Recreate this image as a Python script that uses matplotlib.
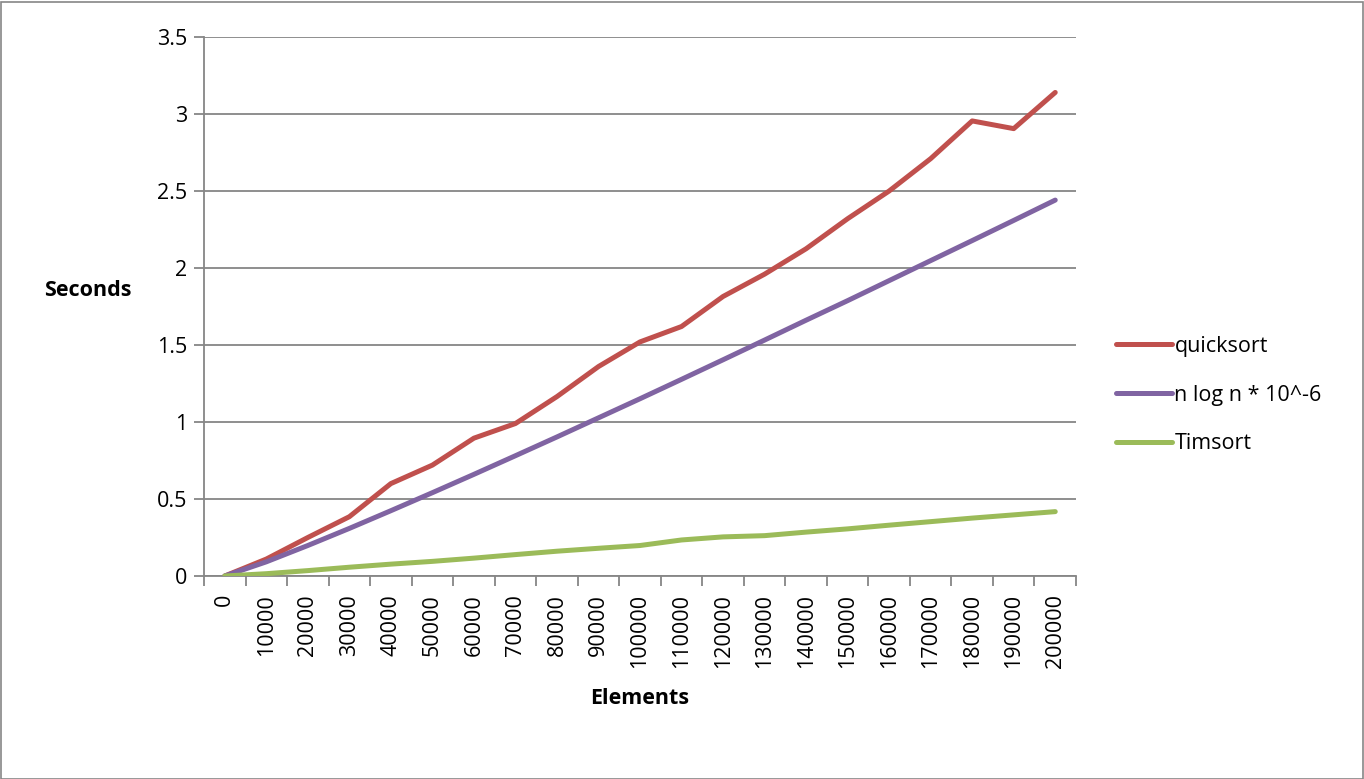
import matplotlib
matplotlib.use("Agg")
import matplotlib.pyplot as plt
from matplotlib.patches import Rectangle

# element counts on the category axis
elements = [0, 10000, 20000, 30000, 40000, 50000, 60000, 70000, 80000, 90000,
            100000, 110000, 120000, 130000, 140000, 150000, 160000, 170000,
            180000, 190000, 200000]

# timings in seconds
quicksort = [0, 0.11, 0.25, 0.385, 0.60, 0.72, 0.895, 0.99, 1.165, 1.36,
             1.52, 1.62, 1.815, 1.96, 2.125, 2.32, 2.50, 2.71, 2.955, 2.905, 3.14]
nlogn = [0, 0.092, 0.198, 0.309, 0.424, 0.541, 0.660, 0.781, 0.903, 1.027,
         1.151, 1.277, 1.404, 1.532, 1.661, 1.788, 1.918, 2.048, 2.178, 2.309, 2.441]
timsort = [0, 0.015, 0.035, 0.057, 0.077, 0.095, 0.116, 0.139, 0.161, 0.180,
           0.198, 0.234, 0.254, 0.262, 0.285, 0.306, 0.330, 0.353, 0.376, 0.397, 0.418]

yticks = [0, 0.5, 1, 1.5, 2, 2.5, 3, 3.5]
ytick_labels = ["0", "0.5", "1", "1.5", "2", "2.5", "3", "3.5"]

RED = "#C0504D"
PURPLE = "#8064A2"
GREEN = "#9BBB59"
GRAY = "#868686"
FS = 15.5

plt.rcParams["font.family"] = ["Open Sans", "DejaVu Sans"]

W, H = 1364, 779
fig = plt.figure(figsize=(W / 100, H / 100), dpi=100)
ax = fig.add_axes([204 / W, 1 - 576 / H, (1076 - 204) / W, (576 - 37) / H])

# chart area border
fig.patches.append(Rectangle((0.5 / W, 0.5 / H), (W - 2) / W, (H - 2) / H,
                             transform=fig.transFigure, fill=False,
                             edgecolor=GRAY, linewidth=1.2))

x = list(range(len(elements)))
ax.plot(x, quicksort, color=RED, lw=3.6, solid_capstyle="round",
        solid_joinstyle="round", label="quicksort", zorder=3)
ax.plot(x, nlogn, color=PURPLE, lw=3.6, solid_capstyle="round",
        solid_joinstyle="round", label="n log n * 10^-6", zorder=3)
ax.plot(x, timsort, color=GREEN, lw=3.6, solid_capstyle="round",
        solid_joinstyle="round", label="Timsort", zorder=3)

ax.set_xlim(-0.5, len(elements) - 0.5)
ax.set_ylim(0, 3.5)

# y axis
ax.set_yticks(yticks)
ax.set_yticklabels(ytick_labels, fontsize=FS)
ax.yaxis.grid(True, color=GRAY, lw=1.3)
ax.set_axisbelow(True)
ax.tick_params(axis="y", length=7, width=1.3, color=GRAY, pad=5)

# x axis: labels at category centres, tick marks between categories
ax.set_xticks(x)
ax.set_xticklabels([str(e) for e in elements], rotation=90, fontsize=FS)
ax.set_xticks([i - 0.5 for i in range(len(elements) + 1)], minor=True)
ax.tick_params(axis="x", which="major", length=0, pad=13)
ax.tick_params(axis="x", which="minor", length=7, width=1.3, color=GRAY)

for side in ("top", "right"):
    ax.spines[side].set_visible(False)
for side in ("left", "bottom"):
    ax.spines[side].set_color(GRAY)
    ax.spines[side].set_linewidth(1.3)

fig.text(88 / W, 1 - 291 / H, "Seconds", fontsize=FS, fontweight="bold",
         ha="center", va="center")
fig.text(640 / W, 1 - 699 / H, "Elements", fontsize=FS, fontweight="bold",
         ha="center", va="center")

leg = ax.legend(loc="center left", bbox_to_anchor=(1097 / W, 1 - 395 / H),
                bbox_transform=fig.transFigure, frameon=False, fontsize=FS,
                handlelength=2.6, handletextpad=0.1, labelspacing=1.3)

fig.savefig("out.png", dpi=100)
